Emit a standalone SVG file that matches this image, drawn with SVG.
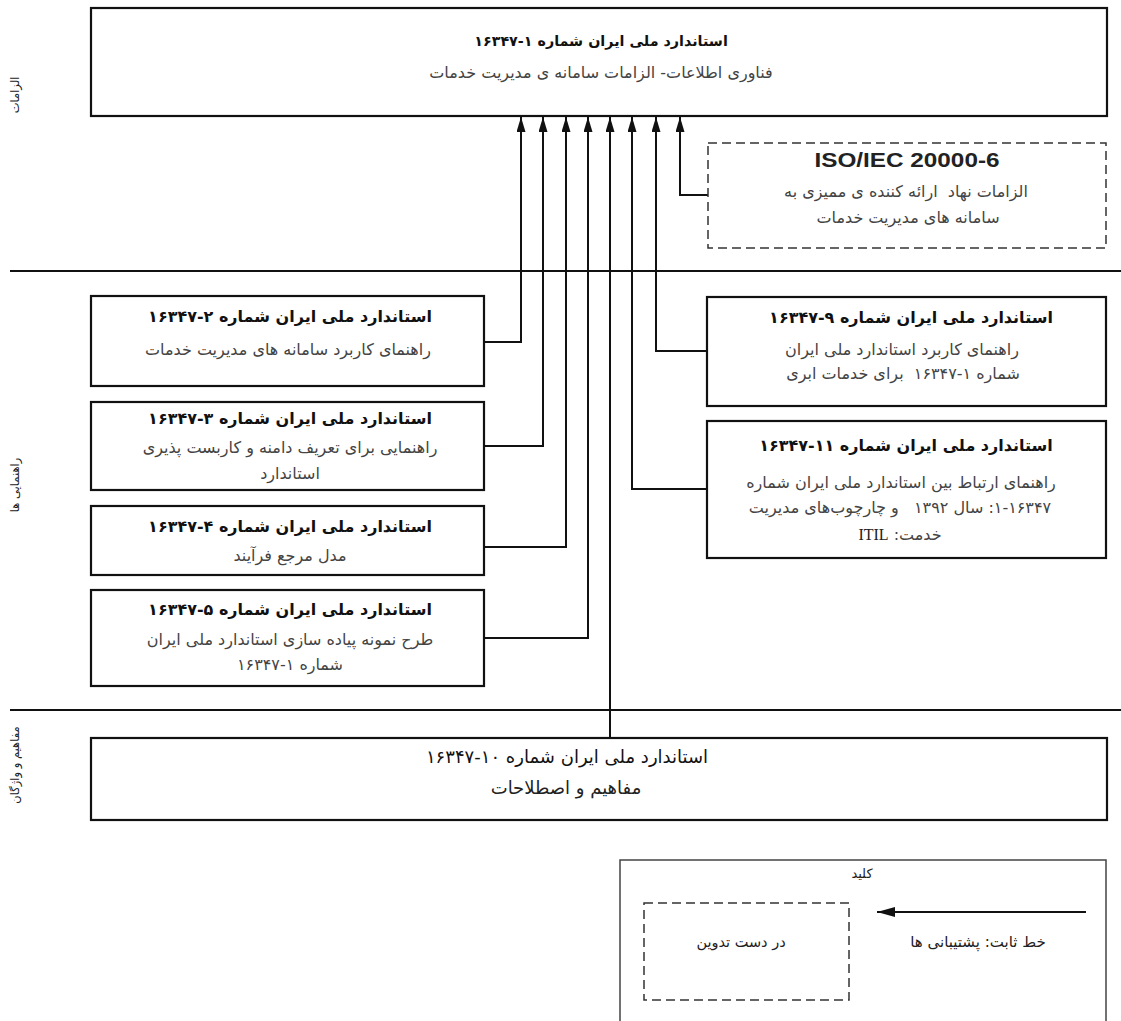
<svg xmlns="http://www.w3.org/2000/svg" width="1121" height="1021" viewBox="0 0 1121 1021">
<style>
  .box { fill: #fff; stroke: #111; stroke-width: 2.2; }
  .dash { fill: #fff; stroke: #333; stroke-width: 1.5; stroke-dasharray: 9 5; }
  .keybox { fill: #fff; stroke: #444; stroke-width: 1.5; }
  .sep { stroke: #111; stroke-width: 2; }
  .conn { fill: none; stroke: #111; stroke-width: 2; }
  text { font-family: "DejaVu Sans", sans-serif; direction: rtl; text-anchor: middle; white-space: pre; }
  .t { font-size: 16px; font-weight: bold; fill: #111; }
  .s { font-size: 16px; fill: #444; }
  .side { font-size: 11.5px; fill: #222; }
  .iso { font-family: "Liberation Sans", Arial, sans-serif; font-size: 20px; font-weight: bold; fill: #222; direction: ltr; }
  .k { font-size: 14px; fill: #222; }
</style>
<defs>
  <marker id="ah" viewBox="0 0 15 9" refX="15" refY="4.5" markerWidth="15" markerHeight="9" markerUnits="userSpaceOnUse" orient="auto">
    <path d="M0,0 L15,4.5 L0,9 Z" fill="#111"/>
  </marker>
  <marker id="ahl" viewBox="0 0 18 10" refX="18" refY="5" markerWidth="18" markerHeight="10" markerUnits="userSpaceOnUse" orient="auto">
    <path d="M0,0 L18,5 L0,10 Z" fill="#111"/>
  </marker>
</defs>

<g id="sections">
  <line class="sep" x1="10" y1="271" x2="1121" y2="271"/>
  <line class="sep" x1="10" y1="710" x2="1121" y2="710"/>
  <text class="side" transform="translate(19,95) rotate(-90)">الزامات</text>
  <text class="side" transform="translate(19,485) rotate(-90)">راهنمایی ها</text>
  <text class="side" transform="translate(19,765) rotate(-90)">مفاهیم و واژگان</text>
</g>

<g id="connectors">
  <polyline class="conn" points="484,342 521,342 521,117" marker-end="url(#ah)"/>
  <polyline class="conn" points="484,446 543,446 543,117" marker-end="url(#ah)"/>
  <polyline class="conn" points="484,547 566,547 566,117" marker-end="url(#ah)"/>
  <polyline class="conn" points="484,638 588,638 588,117" marker-end="url(#ah)"/>
  <polyline class="conn" points="610,737 610,117" marker-end="url(#ah)"/>
  <polyline class="conn" points="707,489 632,489 632,117" marker-end="url(#ah)"/>
  <polyline class="conn" points="707,351 656,351 656,117" marker-end="url(#ah)"/>
  <polyline class="conn" points="708,195 680,195 680,117" marker-end="url(#ah)"/>
</g>

<g id="n1">
  <rect class="box" x="91" y="8" width="1016" height="108"/>
  <text class="t" x="601" y="46" style="font-size:14.3px">استاندارد ملی ایران شماره ۱-۱۶۳۴۷</text>
  <text class="s" x="601" y="78">فناوری اطلاعات- الزامات سامانه ی مدیریت خدمات</text>
</g>

<g id="iso">
  <rect class="dash" x="708" y="143" width="398" height="105"/>
  <text class="iso" x="907" y="167" textLength="185" lengthAdjust="spacingAndGlyphs">ISO/IEC 20000-6</text>
  <text class="s" x="906" y="197">الزامات نهاد  ارائه کننده ی ممیزی به</text>
  <text class="s" x="908" y="223">سامانه های مدیریت خدمات</text>
</g>

<g id="n2">
  <rect class="box" x="91" y="296" width="393" height="90"/>
  <text class="t" x="290" y="322">استاندارد ملی ایران شماره ۲-۱۶۳۴۷</text>
  <text class="s" x="288" y="355">راهنمای کاربرد سامانه های مدیریت خدمات</text>
</g>

<g id="n3">
  <rect class="box" x="91" y="402" width="393" height="88"/>
  <text class="t" x="290" y="424">استاندارد ملی ایران شماره ۳-۱۶۳۴۷</text>
  <text class="s" x="290" y="453">راهنمایی برای تعریف دامنه و کاربست پذیری</text>
  <text class="s" x="290" y="479">استاندارد</text>
</g>

<g id="n4">
  <rect class="box" x="91" y="506" width="393" height="69"/>
  <text class="t" x="290" y="532">استاندارد ملی ایران شماره ۴-۱۶۳۴۷</text>
  <text class="s" x="290" y="561">مدل مرجع فرآیند</text>
</g>

<g id="n5">
  <rect class="box" x="91" y="590" width="393" height="96"/>
  <text class="t" x="290" y="615">استاندارد ملی ایران شماره ۵-۱۶۳۴۷</text>
  <text class="s" x="290" y="645">طرح نمونه پیاده سازی استاندارد ملی ایران</text>
  <text class="s" x="290" y="670">شماره ۱-۱۶۳۴۷</text>
</g>

<g id="n9">
  <rect class="box" x="707" y="297" width="399" height="109"/>
  <text class="t" x="911" y="323">استاندارد ملی ایران شماره ۹-۱۶۳۴۷</text>
  <text class="s" x="902" y="355">راهنمای کاربرد استاندارد ملی ایران</text>
  <text class="s" x="903" y="379">شماره ۱-۱۶۳۴۷  برای خدمات ابری</text>
</g>

<g id="n11">
  <rect class="box" x="707" y="421" width="399" height="137"/>
  <text class="t" x="906" y="451">استاندارد ملی ایران شماره ۱۱-۱۶۳۴۷</text>
  <text class="s" x="901" y="488">راهنمای ارتباط بین استاندارد ملی ایران شماره</text>
  <text class="s" x="900" y="513">۱-۱۶۳۴۷: سال ۱۳۹۲   و چارچوب‌های مدیریت</text>
  <text class="s" x="900" y="540">خدمت: <tspan style="font-family:'Liberation Serif',serif;fill:#222">ITIL</tspan></text>
</g>

<g id="n10">
  <rect class="box" x="91" y="738" width="1016" height="82"/>
  <text x="567" y="763" style="font-size:18px;fill:#111">استاندارد ملی ایران شماره ۱۰-۱۶۳۴۷</text>
  <text x="566" y="794" style="font-size:18px;fill:#222">مفاهیم و اصطلاحات</text>
</g>

<g id="key">
  <rect class="keybox" x="620" y="860" width="486" height="180"/>
  <text class="k" x="862" y="878" style="font-size:13px">کلید</text>
  <rect class="dash" x="644" y="903" width="205" height="97"/>
  <text class="k" x="741" y="947" style="font-size:14.5px">در دست تدوین</text>
  <line class="conn" x1="1086" y1="912" x2="877" y2="912" marker-end="url(#ahl)"/>
  <text class="k" x="978" y="947" style="font-size:15px">خط ثابت: پشتیبانی ها</text>
</g>
</svg>
